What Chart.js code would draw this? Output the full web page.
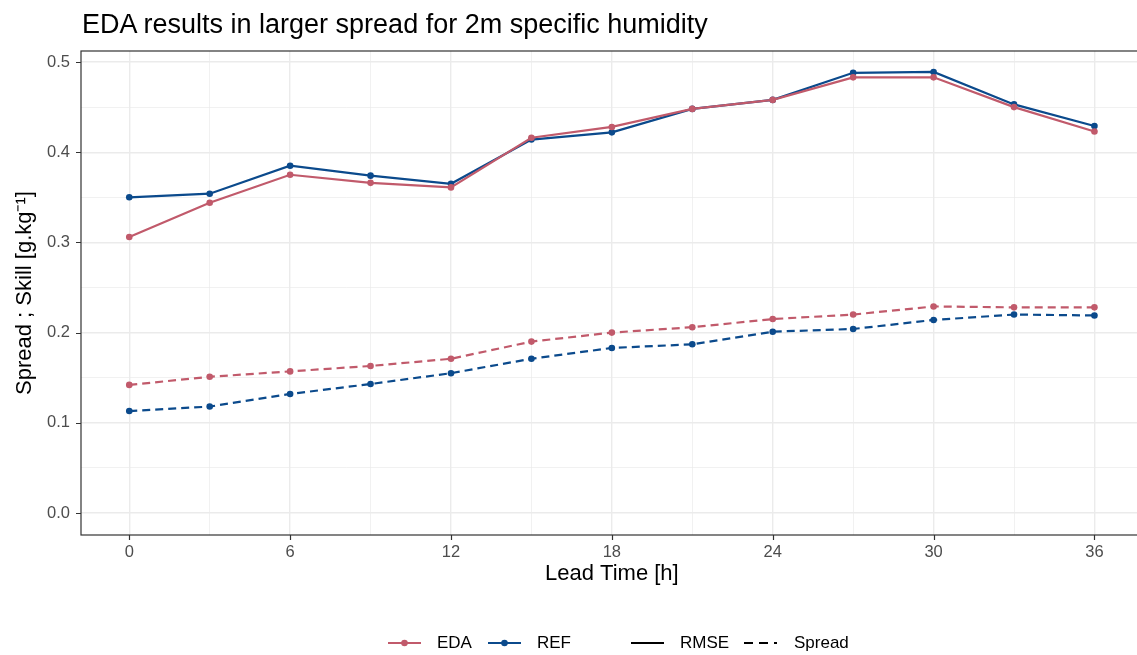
<!DOCTYPE html>
<html><head><meta charset="utf-8">
<script src="https://cdn.jsdelivr.net/npm/chart.js@4.4.1/dist/chart.umd.min.js"></script>
<style>
html,body{margin:0;padding:0;background:#fff;overflow:hidden;}
#wrap{position:relative;width:1137px;height:655px;overflow:hidden;font-family:"Liberation Sans",Arial,sans-serif;}
#c{position:absolute;left:0;top:0;}
#title{position:absolute;left:82px;top:8px;font-size:27px;line-height:32px;color:#000;white-space:nowrap;}
#legend{position:absolute;left:0;top:632px;width:1137px;height:22px;font-size:17px;color:#000;}
.lm{position:absolute;top:0;}
.lt{position:absolute;top:0;line-height:22px;white-space:nowrap;}
</style></head>
<body><div id="wrap">
<canvas id="c" width="1146" height="655"></canvas>
<div id="title">EDA results in larger spread for 2m specific humidity</div>
<div id="legend"></div>
</div>
<script>
const leadTimes = [0,3,6,9,12,15,18,21,24,27,30,33,36];
const edaRMSE   = [0.306,0.344,0.375,0.366,0.361,0.416,0.428,0.448,0.458,0.483,0.483,0.450,0.423];
const refRMSE   = [0.350,0.354,0.385,0.374,0.365,0.414,0.422,0.448,0.458,0.488,0.489,0.453,0.429];
const edaSpread = [0.142,0.151,0.157,0.163,0.171,0.190,0.200,0.206,0.215,0.220,0.229,0.228,0.228];
const refSpread = [0.113,0.118,0.132,0.143,0.155,0.171,0.183,0.187,0.201,0.204,0.214,0.220,0.219];
const xTicks = [0,3,6,9,12,15,18,21,24,27,30,33,36];
const yTicks = [0,0.05,0.1,0.15,0.2,0.25,0.3,0.35,0.4,0.45,0.5];
const seriesNames = ['EDA','REF'];
const EDA_COL = '#C15A6B', REF_COL = '#0B4A8C';

function pts(arr){ return leadTimes.map((t,i)=>({x:t,y:arr[i]})); }
function ds(label, arr, col, dashed){
  return {label, data: pts(arr), borderColor: col, backgroundColor: col, borderWidth: 2.2,
    borderDash: dashed ? [8,5] : [], pointRadius: 3.3, pointHoverRadius: 3.3, pointBorderWidth: 0,
    tension: 0, fill: false};
}
const isMajorX = v => Math.abs(v % 6) < 1e-9;
const isMajorY = v => Math.abs(Math.round(v*10) - v*10) < 1e-9;

const borderPlugin = {
  id: 'panelBorder',
  afterDraw(chart){
    const {ctx, chartArea:a, scales} = chart;
    ctx.save(); ctx.strokeStyle = '#333333'; ctx.lineWidth = 1.2;
    ctx.strokeRect(a.left, a.top, a.right - a.left, a.bottom - a.top);
    ctx.beginPath();
    scales.x.ticks.forEach(t => { if (isMajorX(t.value)) { const px = Math.round(scales.x.getPixelForValue(t.value)) + 0.5; ctx.moveTo(px, a.bottom); ctx.lineTo(px, a.bottom + 5); } });
    scales.y.ticks.forEach(t => { if (isMajorY(t.value)) { const py = Math.round(scales.y.getPixelForValue(t.value)) + 0.5; ctx.moveTo(a.left, py); ctx.lineTo(a.left - 5, py); } });
    ctx.stroke();
    ctx.restore();
  }
};

new Chart(document.getElementById('c'), {
  type: 'line',
  data: { datasets: [
    ds('EDA RMSE', edaRMSE, EDA_COL, false),
    ds('REF RMSE', refRMSE, REF_COL, false),
    ds('EDA Spread', edaSpread, EDA_COL, true),
    ds('REF Spread', refSpread, REF_COL, true)
  ]},
  plugins: [borderPlugin],
  options: {
    responsive: false, animation: false, devicePixelRatio: 1,
    layout: { padding: { top: 51, right: 0, bottom: 68, left: 0 } },
    plugins: { legend: { display: false }, title: { display: false }, tooltip: { enabled: false } },
    scales: {
      x: {
        type: 'linear', min: -1.8, max: 37.8,
        afterBuildTicks: s => { s.ticks = xTicks.map(v => ({value: v})); },
        afterFit: s => { s.height = 52; },
        ticks: { callback: v => isMajorX(v) ? String(v) : '', color: '#4D4D4D', padding: 3,
          font: { family: 'Liberation Sans', size: 16.5 }, maxRotation: 0, autoSkip: false },
        grid: { color: '#EBEBEB', lineWidth: ctx => (ctx.tick && isMajorX(ctx.tick.value)) ? 1.4 : 0.7,
          drawTicks: true, tickColor: 'rgba(0,0,0,0)', tickLength: 5 },
        border: { display: false },
        title: { display: true, text: 'Lead Time [h]', color: '#000', font: { family: 'Liberation Sans', size: 22 }, padding: { top: 0, bottom: 0 } }
      },
      y: {
        type: 'linear', min: -0.0244, max: 0.5122,
        afterBuildTicks: s => { s.ticks = yTicks.map(v => ({value: v})); },
        afterFit: s => { s.width = 81; },
        ticks: { callback: v => isMajorY(v) ? v.toFixed(1) : '', color: '#4D4D4D', padding: 6,
          font: { family: 'Liberation Sans', size: 16.5 }, autoSkip: false },
        grid: { color: '#EBEBEB', lineWidth: ctx => (ctx.tick && isMajorY(ctx.tick.value)) ? 1.4 : 0.7,
          drawTicks: true, tickColor: 'rgba(0,0,0,0)', tickLength: 5 },
        border: { display: false },
        title: { display: true, text: 'Spread ; Skill [g.kg\u207B\u00B9]', color: '#000', font: { family: 'Liberation Sans', size: 22 }, padding: { top: 12, bottom: 0 } }
      }
    }
  }
});

// legend (HTML)
const legendItems = [
  {mx: 388, tx: 437, label: seriesNames[0], col: EDA_COL, dot: true, dash: false},
  {mx: 488, tx: 537, label: seriesNames[1], col: REF_COL, dot: true, dash: false},
  {mx: 631, tx: 680, label: 'RMSE', col: '#000', dot: false, dash: false},
  {mx: 744, tx: 794, label: 'Spread', col: '#000', dot: false, dash: true}
];
const L = document.getElementById('legend');
legendItems.forEach(it => {
  const dashAttr = it.dash ? ' stroke-dasharray="9 6"' : '';
  const dot = it.dot ? `<circle cx="16.5" cy="11" r="3.3" fill="${it.col}"/>` : '';
  const m = document.createElement('div'); m.className = 'lm'; m.style.left = it.mx + 'px';
  m.innerHTML = `<svg width="33" height="22" style="display:block"><line x1="0" y1="11" x2="33" y2="11" stroke="${it.col}" stroke-width="2.2"${dashAttr}/>${dot}</svg>`;
  const t = document.createElement('div'); t.className = 'lt'; t.style.left = it.tx + 'px'; t.textContent = it.label;
  L.appendChild(m); L.appendChild(t);
});
</script>
</body></html>
